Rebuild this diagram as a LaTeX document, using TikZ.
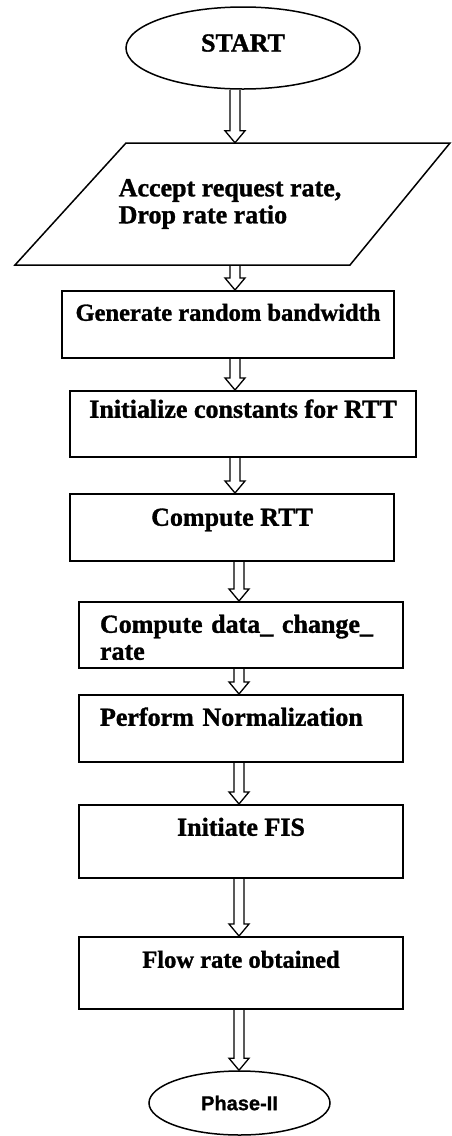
\documentclass[tikz,border=0pt]{standalone}
\usepackage{fontspec}
\setmainfont{Liberation Serif}[BoldFeatures={FakeBold=1.2}]
\newfontfamily\phasefont{Liberation Sans}[BoldFeatures={FakeBold=1}]
\usetikzlibrary{shapes.geometric, calc, positioning}

\begin{document}
\begin{tikzpicture}[x=1pt, y=-1pt,
    every node/.style={font=\fontsize{26}{27}\selectfont\bfseries},
    terminal/.style={ellipse, draw, line width=1.5pt},
    procbox/.style={rectangle, draw, line width=1.5pt, anchor=north, minimum width=324, text height=17pt},
    hollow/.style={draw, line width=1.3pt, to path={let \p1=(\tikztostart), \p2=(\tikztotarget) in
        (\x1-5pt,\y1) -- (\x1-5pt,\y2+12pt) -- (\x1-10pt,\y2+12pt) -- (\x1,\y2)
        -- (\x1+10pt,\y2+12pt) -- (\x1+5pt,\y2+12pt) -- (\x1+5pt,\y1)}}]
                        \useasboundingbox (0, 0) rectangle (452, 1136);
                        \coordinate (colA) at (235, 0);
                        \coordinate (colB) at (239, 0);
                        \node[terminal, minimum width=234, minimum height=82, text height=17pt, text depth=10pt] (start) at (243, 48) {START};
                        \node[minimum height=122, align=left] (accept) at (230, 204) {Accept request rate,\\Drop rate ratio};
                        % input slant
                        \draw[line width=1.5pt] (126, 143) -- (450, 143) -- (350, 265) -- (15, 265) -- cycle;
                        \node[procbox, minimum width=332, minimum height=67, inner ysep=13pt, text depth=24pt, font=\fontsize{24.5}{27}\selectfont\bfseries] (bandwidth) at (228, 290) {Generate random bandwidth};
                        \node[procbox, minimum width=346, minimum height=66, inner ysep=10pt, text depth=29pt] (constants) at (243, 390) {Initialize constants for RTT};
                        \node[procbox, minimum height=67, inner ysep=15pt, text depth=20pt] (rtt) at (232, 493) {Compute RTT};
                        \node[procbox, minimum height=66, inner ysep=14pt, inner xsep=21pt, text width=282, align=left, text depth=21pt] (change) at (241, 601) {Compute data\_ change\_\\rate};
                        \node[procbox, minimum height=67, inner ysep=14pt, inner xsep=21pt, text width=282, align=left, text depth=22pt] (norm) at (241, 694) {Perform Normalization};
                        \node[procbox, minimum height=73, inner ysep=14pt, text depth=28pt] (fis) at (241, 804) {Initiate FIS};
                        \node[procbox, minimum height=72, inner ysep=14pt, text depth=27pt, font=\fontsize{24.5}{27}\selectfont\bfseries] (flow) at (241, 936) {Flow rate obtained};
                        \node[terminal, minimum width=181, minimum height=64, font=\phasefont\bfseries\fontsize{20}{24}\selectfont] (phase) at (239.5, 1103) {Phase-II};
                        \draw[hollow]
                        (start.south -| colA) to (accept.north -| colA)
                        (accept.south -| colA) to (bandwidth.north -| colA)
                        (bandwidth.south -| colA) to (constants.north -| colA)
                        (constants.south -| colA) to (rtt.north -| colA)
                        (rtt.south -| colB) to (change.north -| colB)
                        (change.south -| colB) to (norm.north -| colB)
                        (norm.south -| colB) to (fis.north -| colB)
                        (fis.south -| colB) to (flow.north -| colB)
                        (flow.south -| colB) to (phase.north -| colB);
                    \end{tikzpicture}
\end{document}
